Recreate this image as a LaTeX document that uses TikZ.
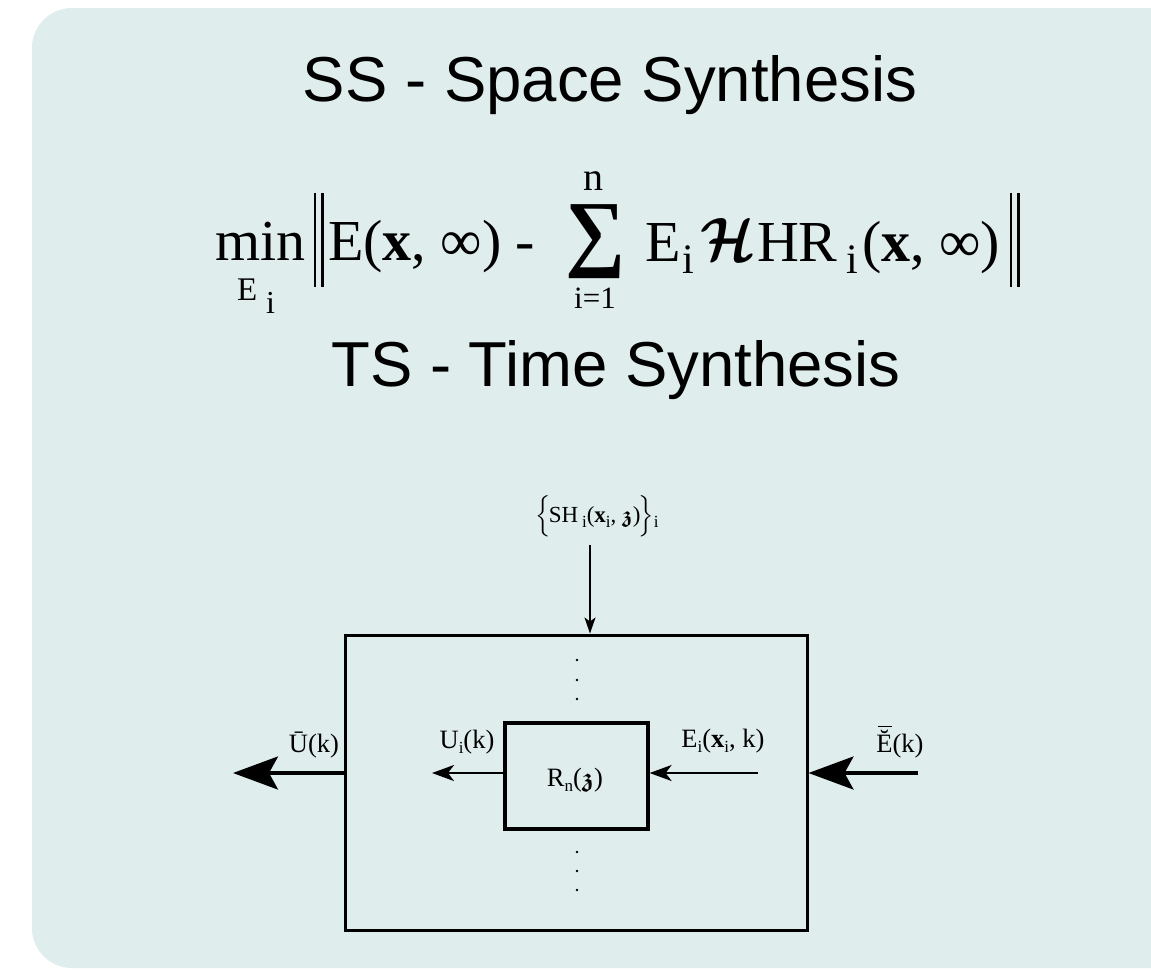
\documentclass[tikz,border=0pt]{standalone}
\usepackage{amsmath,amssymb}
\usepackage{graphicx}
\usepackage{fontspec}
\setmainfont{Liberation Serif}
\newfontfamily\titlefont{Liberation Sans}
\usetikzlibrary{arrows.meta}
\definecolor{bgcol}{RGB}{224,237,237}
\newcommand\tsz[2]{{\fontsize{#1}{#1}\selectfont #2}}
\newcommand\fz{\ensuremath{\boldsymbol{\mathfrak{z}}}}
\newcommand\lsub[1]{\raisebox{-5pt}{\fontsize{17}{17}\selectfont #1}}
\begin{document}
\begin{tikzpicture}[x=1pt,y=-1pt,
  fml/.style={inner sep=0pt, outer sep=0pt, anchor=base west},
  ttl/.style={inner sep=0pt, anchor=base, font=\titlefont\fontsize{63.5}{63.5}\selectfont},
  lbl/.style={inner sep=0pt, anchor=base, font=\fontsize{26.5}{26.5}\selectfont},
  boxnode/.style={draw, line width=3pt, inner sep=0pt},
  normbar/.style={line width=2.8pt},
  thinarrow/.style={line width=1.5pt, -{Stealth[length=16pt,width=11pt,inset=4pt]}},
  midarrow/.style={line width=2pt, -{Stealth[length=22pt,width=16pt,inset=6pt]}},
  bigarrow/.style={line width=3.5pt, -{Stealth[length=45pt,width=33pt,inset=9pt]}},
  dotmark/.style={fill=black}]
\useasboundingbox (0,0) rectangle (1151,970);
\begin{scope}
  \clip (0,0) rectangle (1151,970);
  \fill[bgcol, rounded corners=40pt] (32,8) rectangle (1190,968);
\end{scope}

% titles
\node[ttl] (ss) at (610,101) {SS - Space Synthesis};
\node[ttl] (ts) at (616,386) {TS - Time Synthesis};

% formula
\node[fml] (min) at (215,260) {\tsz{58}{min}};
\node[fml] (minE) at (237,300) {\tsz{33}{E}};
\node[fml] (mini) at (266,313) {\tsz{32}{i}};
\draw[normbar] (315,193) -- (315,287);
\draw[normbar] (322.5,193) -- (322.5,287);
\node[fml] (lhs) at (328,260) {\tsz{58}{E(\textbf{x}, ∞) -}};
\node[inner sep=0pt, anchor=north west] (sum) at (565,204) {\resizebox*{60pt}{74pt}{\textbf{∑}}};
\node[fml, anchor=base] (sumn) at (593.5,190) {\tsz{40}{n}};
\node[fml, anchor=base] (sumi) at (595,308) {\tsz{31}{i=1}};
\node[fml] (Ei) at (645,261) {\tsz{58}{E}};
\node[fml] (Eisub) at (682,273) {\tsz{42}{i}};
\node[inner sep=0pt, anchor=north west] (calH) at (700,218) {\resizebox*{55pt}{42pt}{$\boldsymbol{\mathcal{H}}$}};
\node[fml] (HR) at (757,261) {\tsz{58}{HR}};
\node[fml] (HRsub) at (846,273) {\tsz{42}{i}};
\node[fml] (rhs) at (862,261) {\tsz{58}{(\textbf{x}, ∞)}};
\draw[normbar] (1011,193) -- (1011,287);
\draw[normbar] (1018.3,193) -- (1018.3,287);

% diagram
\node[boxnode, minimum width=462pt, minimum height=295pt] (outer) at (576,782.5) {};
\node[boxnode, line width=3.2pt, minimum width=143pt, minimum height=106pt] (inner) at (576.5,776) {};
\node[lbl] (lblR) at (575,786) {R\lsub{n}(\fz)};

\node[lbl, font=\fontsize{23}{23}\selectfont] (lblSH) at (597,522) {$\Bigl\{$\hspace{-2pt}SH\,\lsub{i}(\textbf{x}\lsub{i}, \fz)\hspace{-2pt}$\Bigr\}$\lsub{i}};
\coordinate (shtop) at (590,545);
\draw[thinarrow] (shtop) -- (outer.north -| shtop);

\coordinate (uiend) at (432,773);
\draw[midarrow] (inner.west |- uiend) -- (uiend);
\node[lbl] (lblUi) at (467,748) {U\lsub{i}(k)};

\coordinate (eistart) at (758,773);
\draw[midarrow] (eistart) -- (inner.east |- eistart);
\node[lbl] (lblEi) at (723,747) {E\lsub{i}(\textbf{x}\lsub{i}, k)};

\coordinate (ubend) at (233,773);
\draw[bigarrow] (outer.west |- ubend) -- (ubend);
\node[lbl] (lblUb) at (314,752) {Ū(k)};

\coordinate (ebstart) at (918,773);
\draw[bigarrow] (ebstart) -- (outer.east |- ebstart);
\node[lbl] (lblEb) at (900,752) {\makebox[0pt][l]{\hspace{1.5pt}\rule[25pt]{14pt}{1.3pt}}Ĕ(k)};

% dots
\foreach \yy in {660,680,699,852,871,890} \fill[dotmark] (577,\yy) circle (1.3pt);
\end{tikzpicture}
\end{document}
